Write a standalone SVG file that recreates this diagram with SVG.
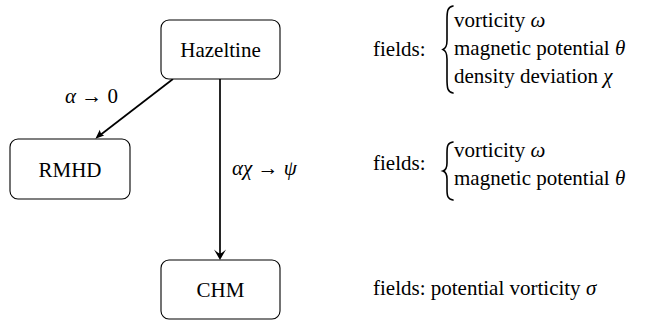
<svg xmlns="http://www.w3.org/2000/svg" width="646" height="320" viewBox="0 0 646 320">
<rect width="646" height="320" fill="#fff"/>
<g id="connectors" stroke="#000" stroke-width="1.7" fill="none">
  <line x1="173" y1="79" x2="99" y2="136"/>
  <path d="M95.4,138.8 L99.8,129.7 Q100.6,134.6 104.2,135.5 Z" fill="#000" stroke="none"/>
  <line x1="220" y1="79" x2="220" y2="255"/>
  <path d="M220,260 L214,249.5 Q218.5,253.5 220,253.5 Q221.5,253.5 226,249.5 Z" fill="#000" stroke="none"/>
</g>
<g id="edge-labels">
  <text font-size="21" font-family="Liberation Serif" x="65" y="103"><tspan font-style="italic">&#945;</tspan> &#8594; 0</text>
  <text font-size="21" font-family="Liberation Serif" x="232" y="175"><tspan font-style="italic">&#945;&#967;</tspan> &#8594; <tspan font-style="italic">&#968;</tspan></text>
</g>
<g id="hazeltine">
  <rect x="161" y="20" width="119" height="59" rx="8" fill="#fff" stroke="#000" stroke-width="1.1"/>
  <text font-size="21" font-family="Liberation Serif" x="220.5" y="57" text-anchor="middle">Hazeltine</text>
</g>
<g id="rmhd">
  <rect x="10" y="139" width="120" height="60" rx="8" fill="#fff" stroke="#000" stroke-width="1.1"/>
  <text font-size="21" font-family="Liberation Serif" x="70" y="177" text-anchor="middle">RMHD</text>
</g>
<g id="chm">
  <rect x="161" y="260" width="119" height="59" rx="8" fill="#fff" stroke="#000" stroke-width="1.1"/>
  <text font-size="21" font-family="Liberation Serif" x="220.5" y="297" text-anchor="middle">CHM</text>
</g>
<g id="fields-hazeltine">
  <text font-size="21" font-family="Liberation Serif" x="373" y="56">fields:</text>
  <path d="M453,6 C447.5,7 447,11 447,20 L447,40 C447,46 446,48 443,49.5 C446,51 447,53 447,59 L447,79 C447,88 447.5,92 453,93" stroke="#000" stroke-width="1.6" fill="none" stroke-linecap="round"/>
  <text font-size="21" font-family="Liberation Serif" x="454" y="27">vorticity <tspan font-style="italic">&#969;</tspan></text>
  <text font-size="21" font-family="Liberation Serif" x="454" y="55">magnetic potential <tspan font-style="italic">&#952;</tspan></text>
  <text font-size="21" font-family="Liberation Serif" x="454" y="83">density deviation <tspan font-style="italic">&#967;</tspan></text>
</g>
<g id="fields-rmhd">
  <text font-size="21" font-family="Liberation Serif" x="373" y="170">fields:</text>
  <path d="M453,142 C447.5,143 447,146 447,153 L447,163 C447,168 446,170 443,171 C446,172 447,174 447,179 L447,189 C447,196 447.5,199 453,200" stroke="#000" stroke-width="1.6" fill="none" stroke-linecap="round"/>
  <text font-size="21" font-family="Liberation Serif" x="454" y="157">vorticity <tspan font-style="italic">&#969;</tspan></text>
  <text font-size="21" font-family="Liberation Serif" x="454" y="185">magnetic potential <tspan font-style="italic">&#952;</tspan></text>
</g>
<g id="fields-chm">
  <text font-size="21" font-family="Liberation Serif" x="373" y="295">fields: potential vorticity <tspan font-style="italic">&#963;</tspan></text>
</g>
</svg>
